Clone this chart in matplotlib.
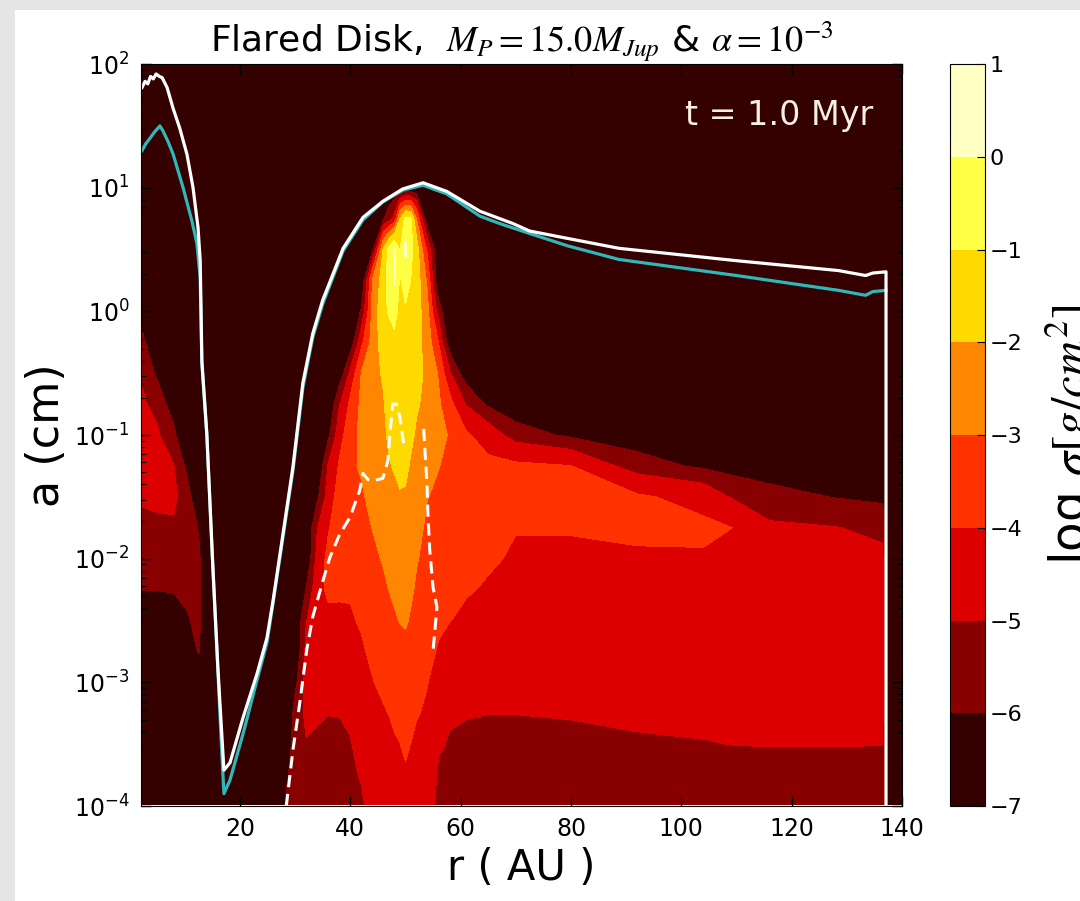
import numpy as np
import matplotlib
matplotlib.use('Agg')
import matplotlib.pyplot as plt
from matplotlib.patches import Rectangle

# radial nodes (AU) of the surface density table
r_nodes = [2.3, 5, 8, 10.5, 12.5, 14, 27, 28.5, 30, 32, 34, 36, 38, 40, 42, 44,
           46, 47, 48, 49, 50, 51, 52, 54, 56, 58, 61, 65, 70, 80, 92, 104, 110,
           116, 128, 136.5, 137.5, 140]
# log10 grain size (cm) of the table rows
log_a_nodes = [-3.985, -3.75, -3.5, -3.25, -3.0, -2.75, -2.5, -2.25, -2.0, -1.75,
               -1.5, -1.25, -1.0, -0.75, -0.5, -0.25, 0.0, 0.25, 0.5, 0.75, 1.0,
               1.25, 2.0]

# log sigma [g/cm^2], one column per radial node, small to large grains
sigma_cols = [
    [-7, -7, -7, -7, -7, -6.8, -6.4, -5.98, -5.6, -5.23, -4.85, -4.58, -4.5, -4.82, -5.22, -5.78, -6.5] + [-7] * 6,
    [-7, -7, -7, -7, -7, -6.9, -6.4, -5.98, -5.57, -5.16, -4.79, -4.56, -4.86, -5.4, -6.2, -6.8] + [-7] * 7,
    [-7, -7, -7, -7, -7, -6.9, -6.5, -5.92, -5.52, -5.13, -4.75, -4.97, -5.8, -6.5] + [-7] * 9,
    [-7, -7, -7, -7, -7, -6.8, -6.1, -5.7, -5.3, -5.1, -5.7, -6.3] + [-7] * 11,
    [-7, -7, -7, -7, -7, -5.9, -5.7, -5.6, -5.75, -6.1, -6.6] + [-7] * 12,
    [-7] * 23,
    [-7] * 23,
    [-5.7, -6.2] + [-7] * 21,
    [-5.4, -5.2, -5.15, -5.6, -6.3] + [-7] * 18,
    [-5.4, -5.22, -5.04, -4.8, -4.55, -4.73, -5.07, -5.96] + [-7] * 15,
    [-5.4, -5.25, -5.1, -4.91, -4.67, -4.44, -4.2, -4.31, -4.66, -5.05, -6.23] + [-7] * 12,
    [-5.5, -5.34, -5.17, -4.98, -4.72, -4.44, -4.16, -3.84, -3.73, -4.11, -4.52, -4.92, -6.26] + [-7] * 10,
    [-5.5, -5.33, -5.16, -4.97, -4.7, -4.42, -4.15, -3.87, -3.58, -3.31, -3.6, -3.9, -4.4, -5.1, -6.8] + [-7] * 8,
    [-5.4, -5.23, -5.05, -4.83, -4.58, -4.34, -4.1, -3.89, -3.7, -3.51, -3.33, -3.14, -3.4, -3.78, -4.77, -6.75] + [-7] * 7,
    [-5.15, -4.91, -4.71, -4.51, -4.31, -4.1, -3.9, -3.7, -3.5, -3.29, -3.08, -2.91, -2.76, -2.8, -2.97, -4.28, -5.9] + [-7] * 6,
    [-4.6, -4.45, -4.3, -4.15, -4.03, -3.85, -3.64, -3.42, -3.21, -2.98, -2.83, -2.67, -2.5, -2.33, -2.44, -2.61, -2.79, -2.96, -6.3] + [-7] * 4,
    [-4.4, -4.29, -4.17, -4.05, -3.86, -3.62, -3.38, -3.14, -2.92, -2.72, -2.52, -2.35, -2.21, -2.08, -1.85, -1.48, -1.1, -1.48, -1.85, -6.1] + [-7] * 3,
    [-4.35, -4.24, -4.12, -3.99, -3.74, -3.49, -3.24, -2.99, -2.77, -2.55, -2.3, -2.06, -1.84, -1.63, -1.41, -1.18, -0.95, -0.7, -0.6, -5.5] + [-7] * 3,
    [-4.3, -4.19, -4.06, -3.87, -3.61, -3.34, -3.08, -2.84, -2.61, -2.38, -2.15, -1.93, -1.74, -1.54, -1.35, -1.15, -0.72, 0.13, 0.19, -4.7] + [-7] * 3,
    [-4.25, -4.13, -4.01, -3.76, -3.5, -3.23, -2.97, -2.74, -2.5, -2.26, -2.03, -1.88, -1.74, -1.6, -1.46, -1.34, -1.24, -1.14, -1.04, -2.0] + [-7] * 3,
    [-4.2, -4.07, -3.88, -3.64, -3.4, -3.15, -2.92, -2.71, -2.5, -2.27, -2.05, -1.88, -1.74, -1.59, -1.44, -1.28, -1.12, -0.42, 0.3, -0.75] + [-7] * 3,
    [-4.25, -4.13, -4.01, -3.78, -3.55, -3.31, -3.08, -2.86, -2.66, -2.46, -2.26, -2.06, -1.88, -1.71, -1.53, -1.37, -1.2, -1.03, -0.76, -0.9] + [-7] * 3,
    [-4.3, -4.2, -4.09, -3.96, -3.75, -3.54, -3.33, -3.12, -2.92, -2.71, -2.5, -2.29, -2.08, -1.91, -1.76, -1.61, -1.46, -1.42, -1.5, -3.0] + [-7] * 3,
    [-4.3, -4.23, -4.15, -4.08, -3.98, -3.83, -3.67, -3.5, -3.33, -3.17, -2.98, -2.74, -2.47, -2.21, -2.17, -2.47, -2.76, -3.2, -4.25] + [-7] * 4,
    [-5.4, -5.14, -4.87, -4.6, -4.33, -4.06, -3.86, -3.68, -3.5, -3.32, -3.14, -2.97, -2.81, -2.85, -3.1, -4.02, -5.53] + [-7] * 6,
    [-5.5, -5.3, -5.09, -4.84, -4.54, -4.25, -3.98, -3.82, -3.67, -3.51, -3.36, -3.2, -3.05, -3.66, -4.85, -6.7] + [-7] * 7,
    [-5.5, -5.33, -5.15, -4.95, -4.68, -4.41, -4.15, -3.92, -3.75, -3.57, -3.4, -3.64, -3.88, -5.07, -6.7] + [-7] * 8,
    [-5.5, -5.34, -5.17, -4.99, -4.77, -4.54, -4.32, -4.09, -3.86, -3.64, -3.59, -3.82, -4.42, -6.2] + [-7] * 9,
    [-5.5, -5.34, -5.17, -4.99, -4.8, -4.6, -4.4, -4.26, -4.12, -3.95, -3.66, -3.84, -5.45] + [-7] * 10,
    [-5.5, -5.33, -5.14, -4.95, -4.76, -4.56, -4.37, -4.24, -4.11, -3.95, -3.7, -3.98, -6.2] + [-7] * 10,
    [-5.4, -5.24, -5.06, -4.88, -4.7, -4.52, -4.36, -4.22, -4.07, -3.87, -3.88, -5.5, -6.77] + [-7] * 10,
    [-5.4, -5.22, -5.02, -4.86, -4.69, -4.53, -4.37, -4.22, -4.06, -3.86, -4.3, -6.2] + [-7] * 11,
    [-5.35, -5.18, -4.99, -4.85, -4.69, -4.54, -4.4, -4.26, -4.12, -4.02, -5.22, -6.52] + [-7] * 11,
    [-5.35, -5.17, -4.98, -4.81, -4.65, -4.48, -4.32, -4.39, -4.63, -4.87, -5.58, -6.77] + [-7] * 11,
    [-5.35, -5.17, -4.98, -4.81, -4.64, -4.47, -4.3, -4.52, -4.75, -4.97, -6.05] + [-7] * 12,
    [-5.35, -5.17, -4.99, -4.82, -4.64, -4.46, -4.43, -4.63, -4.84, -5.21, -6.29] + [-7] * 12,
    [-7] * 23,
    [-7] * 23,
]

# largest grains (white)
r_white = [2.25, 2.8, 3.3, 3.8, 4.3, 4.8, 5.4, 5.9, 6.8, 7.9, 9.1, 10.4, 11.5, 12.4,
           12.8, 13.1, 14.0, 15.1, 16.0, 16.7, 17.1, 18.2, 20.6, 23.1, 24.9, 26.0,
           27.8, 29.6, 31.4, 33.2, 35.0, 38.7, 42.3, 45.9, 49.5, 53.2, 57.5, 63.5,
           69.5, 72.5, 79.4, 88.7, 110.0, 128.5, 133.4, 134.7, 137.1, 137.1]
log_a_white = [1.81, 1.86, 1.84, 1.90, 1.88, 1.92, 1.90, 1.89, 1.81, 1.64, 1.48, 1.27,
               1.0, 0.68, 0.41, -0.40, -0.99, -2.07, -2.88, -3.41, -3.71, -3.65, -3.28,
               -2.93, -2.64, -2.34, -1.80, -1.26, -0.58, -0.18, 0.09, 0.51, 0.76, 0.89,
               0.99, 1.04, 0.97, 0.81, 0.71, 0.65, 0.59, 0.51, 0.41, 0.33, 0.29, 0.31,
               0.32, -4.3]

# fragmentation size (cyan)
r_cyan = [2.25, 3.0, 3.7, 4.5, 5.5, 6.05, 7.0, 7.9, 9.7, 11.3, 12.2, 12.8, 13.1, 14.0,
          15.1, 16.0, 16.6, 17.1, 18.2, 20.6, 23.1, 24.9, 26.0, 27.8, 29.6, 31.4, 33.2,
          35.0, 38.7, 42.3, 45.9, 49.5, 53.2, 57.5, 63.5, 67.1, 72.5, 79.4, 88.7, 110.0,
          128.5, 133.4, 134.7, 137.1]
log_a_cyan = [1.30, 1.36, 1.40, 1.45, 1.50, 1.46, 1.37, 1.27, 1.0, 0.73, 0.55, 0.27,
              -0.42, -1.0, -2.08, -2.9, -3.47, -3.90, -3.79, -3.41, -2.98, -2.68, -2.36,
              -1.83, -1.29, -0.62, -0.21, 0.06, 0.49, 0.74, 0.885, 0.98, 1.02, 0.95, 0.77,
              0.71, 0.63, 0.53, 0.42, 0.29, 0.17, 0.13, 0.16, 0.17]

# drift size (white dashed)
r_drift = [28.4, 29.6, 30.9, 32.1, 33.2, 34.9, 36.3, 38.1, 39.9, 41.7, 42.3, 43.2, 44.1,
           45.9, 46.8, 47.2, 47.7, 48.4, 49.0, 49.5, 49.8, np.nan, 53.3, 53.5, 53.9,
           54.1, 54.4, 55.0, 55.7, 55.3, 55.0]
log_a_drift = [-4.0, -3.55, -3.15, -2.74, -2.47, -2.20, -1.99, -1.80, -1.67, -1.45, -1.31,
               -1.36, -1.37, -1.35, -1.21, -0.99, -0.75, -0.75, -0.86, -1.02, -1.10, np.nan,
               -0.95, -1.10, -1.39, -1.67, -1.93, -2.23, -2.39, -2.60, -2.74]

levels = np.arange(-7, 2)

fig = plt.figure(figsize=(10.8, 9.01), dpi=100)
fig.add_artist(Rectangle((0, 0), 15 / 1080, 1, transform=fig.transFigure,
                         facecolor='#e5e5e5', edgecolor='none', zorder=-1))
fig.add_artist(Rectangle((0, 1 - 10 / 901), 1, 10 / 901, transform=fig.transFigure,
                         facecolor='#e5e5e5', edgecolor='none', zorder=-1))

ax = fig.add_axes([0.1302, 0.1054, 0.705, 0.8235])
ax.set_facecolor('white')

R, A = np.meshgrid(r_nodes, 10.0 ** np.array(log_a_nodes))
Z = np.array(sigma_cols).T
cs = ax.contourf(R, A, Z, levels=levels, cmap='hot')

ax.plot(r_cyan, 10.0 ** np.array(log_a_cyan), color='#2fb8b8', lw=2.3)
ax.plot(r_white, 10.0 ** np.array(log_a_white), color='white', lw=2.3)
ax.plot(r_drift, 10.0 ** np.array(log_a_drift), color='white', lw=2.2,
        linestyle=(0, (4, 2.2)))

ax.set_yscale('log')
ax.set_xlim(2, 140)
ax.set_ylim(1e-4, 1e2)
ax.set_xticks([20, 40, 60, 80, 100, 120, 140])
ax.tick_params(which='both', direction='in', top=True, right=True, labelsize=17, pad=8)
ax.tick_params(which='major', length=7, width=1)
ax.tick_params(which='minor', length=3.5, width=0.8)

ax.set_xlabel('r ( AU )', fontsize=30)
ax.set_ylabel('a (cm)', fontsize=32)
ax.set_title(r'Flared Disk,  $M_P=15.0M_{Jup}$ & $\alpha=10^{-3}$', fontsize=26,
             math_fontfamily='stix', pad=7)
ax.text(0.962, 0.931, 't = 1.0 Myr', transform=ax.transAxes, ha='right', va='center',
        color='#f5efe6', fontsize=24)

cax = fig.add_axes([0.8796, 0.1054, 0.0324, 0.8235])
cb = fig.colorbar(cs, cax=cax, ticks=levels)
cb.ax.tick_params(labelsize=16, direction='in', length=6)
cb.set_label(r'log $\sigma[g/cm^2]$', fontsize=35, math_fontfamily='stix', labelpad=15)

fig.savefig('out.png', dpi=100)
